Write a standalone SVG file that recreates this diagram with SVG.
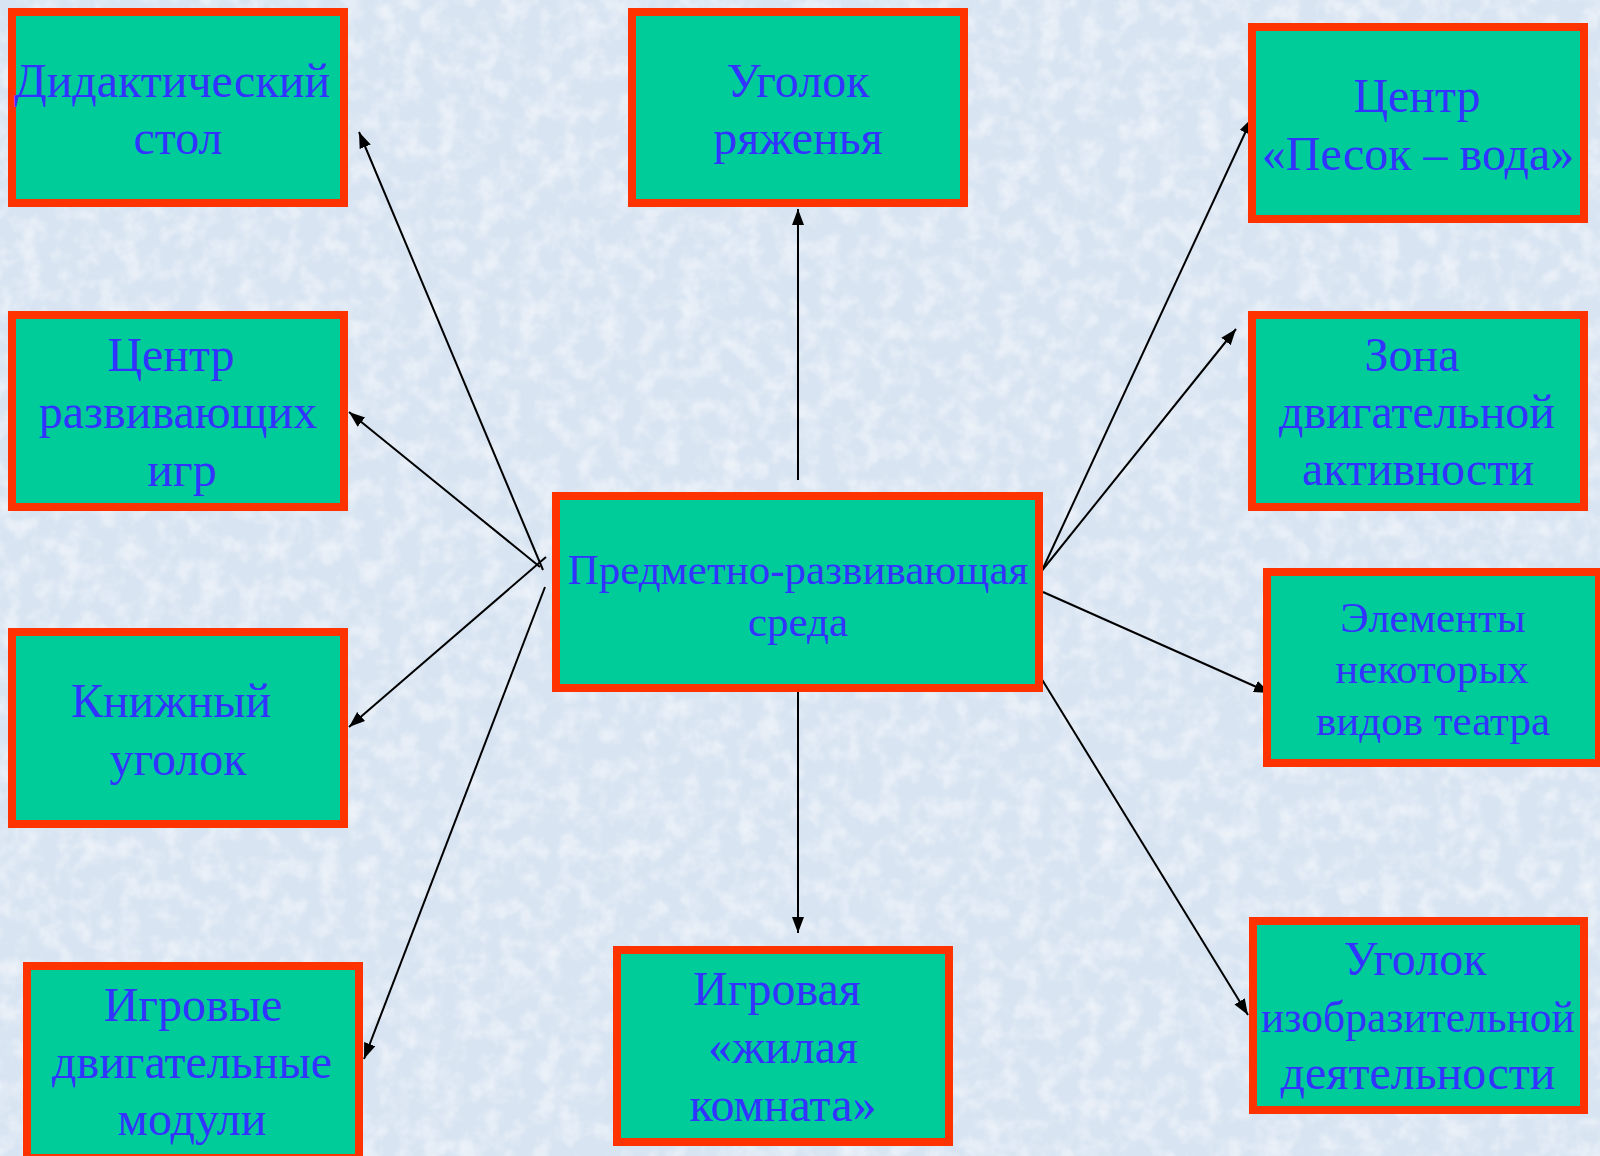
<svg xmlns="http://www.w3.org/2000/svg" width="1600" height="1156" viewBox="0 0 1600 1156">
<style>
.box rect{fill:#00CC99;stroke:#FF3300;stroke-width:8}
.box text{font-family:"Liberation Serif","Times New Roman",serif;font-size:48px;fill:#3333FF;text-anchor:middle}
.box text.s43{font-size:43px}
.box text.s44{font-size:43.5px}
.conn line{stroke:#000;stroke-width:2;marker-end:url(#arr)}
</style>
<defs>
<marker id="arr" markerUnits="userSpaceOnUse" markerWidth="18" markerHeight="14" refX="16" refY="6" orient="auto">
<path d="M0,0 L16,6 L0,12 z" fill="#000"/>
</marker>
<filter id="tex" x="0" y="0" width="100%" height="100%">
<feTurbulence type="fractalNoise" baseFrequency="0.05" numOctaves="3" seed="4" result="n"/>
<feColorMatrix in="n" type="matrix" values="0 0 0 0 1  0 0 0 0 1  0 0 0 0 1  0 0 0 1.1 -0.45" result="w"/>
<feComposite in="w" in2="SourceGraphic" operator="over"/>
</filter>
</defs>
<rect x="0" y="0" width="1600" height="1156" fill="#d8e4f2" filter="url(#tex)"/>

<g class="conn">
<line x1="543" y1="570" x2="359" y2="132"/>
<line x1="540" y1="567" x2="349" y2="412"/>
<line x1="546" y1="557" x2="349" y2="727"/>
<line x1="545" y1="587" x2="364" y2="1059"/>
<line x1="798" y1="480" x2="798" y2="209"/>
<line x1="798" y1="692" x2="798" y2="933"/>
<line x1="1039" y1="577" x2="1252" y2="118"/>
<line x1="1040" y1="573" x2="1236" y2="329"/>
<line x1="1043" y1="592" x2="1270" y2="693"/>
<line x1="1022" y1="647" x2="1248" y2="1015"/>
</g>

<g id="node-didaktichesky" class="box">
<rect x="12" y="12" width="332" height="191"/>
<text x="172" y="97">Дидактический</text>
<text x="178" y="154">стол</text>
</g>
<g id="node-ryazhenya" class="box">
<rect x="632" y="12" width="332" height="191"/>
<text x="798" y="97">Уголок</text>
<text x="798" y="154">ряженья</text>
</g>
<g id="node-pesok-voda" class="box">
<rect x="1252" y="27" width="332" height="192"/>
<text x="1417" y="112">Центр</text>
<text x="1418" y="170">«Песок – вода»</text>
</g>
<g id="node-razv-igr" class="box">
<rect x="12" y="315" width="332" height="192"/>
<text x="171" y="371">Центр</text>
<text x="178" y="428">развивающих</text>
<text x="182" y="486">игр</text>
</g>
<g id="node-zona" class="box">
<rect x="1252" y="315" width="332" height="192"/>
<text x="1412" y="371">Зона</text>
<text x="1417" y="428">двигательной</text>
<text x="1418" y="485">активности</text>
</g>
<g id="node-center" class="box">
<rect x="556" y="496" width="483" height="192"/>
<text class="s43" x="798" y="584">Предметно-развивающая</text>
<text class="s43" x="798" y="636">среда</text>
</g>
<g id="node-knizhny" class="box">
<rect x="12" y="632" width="332" height="192"/>
<text x="171" y="717">Книжный</text>
<text x="178" y="775">уголок</text>
</g>
<g id="node-teatr" class="box">
<rect x="1267" y="572" width="332" height="191"/>
<text class="s43" x="1433" y="632">Элементы</text>
<text class="s43" x="1432" y="683">некоторых</text>
<text class="s43" x="1433" y="735">видов театра</text>
</g>
<g id="node-moduli" class="box">
<rect x="27" y="966" width="332" height="192"/>
<text x="193" y="1021">Игровые</text>
<text x="192" y="1078">двигательные</text>
<text x="192" y="1135">модули</text>
</g>
<g id="node-zhilaya" class="box">
<rect x="617" y="950" width="332" height="192"/>
<text x="777" y="1005">Игровая</text>
<text x="783" y="1063">«жилая</text>
<text x="783" y="1121">комната»</text>
</g>
<g id="node-izo" class="box">
<rect x="1253" y="921" width="331" height="189"/>
<text x="1415" y="975">Уголок</text>
<text class="s44" x="1418" y="1032">изобразительной</text>
<text x="1418" y="1089">деятельности</text>
</g>
</svg>
